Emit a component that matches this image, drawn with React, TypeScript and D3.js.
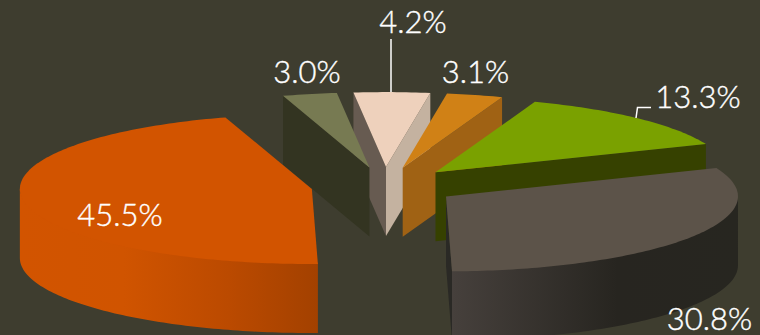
import React from "react";
import * as d3 from "d3";

// Slices clockwise, beginning with the green wedge.
const categories = ["Green", "Slate", "Rust", "Olive", "Blush", "Amber"];
const shares = [13.3, 30.8, 45.5, 3.0, 4.2, 3.1];
const topColors = ["#7aa100", "#5c5349", "#d25400", "#777a52", "#eed1bc", "#d08116"];
const startWallColors = ["none", "none", "none", "#333421", "#675b51", "none"];
const endWallColors = ["#364100", "#2a2925", "none", "none", "#c4b2a0", "#a06214"];
// Back-to-front so nearer wedges overlap those behind them.
const paintOrder = ["Blush", "Olive", "Amber", "Green", "Rust", "Slate"];

const W = 760;
const H = 335;
const CX = 384.5;
const CY = 186;
const RX = 292;
const RY = 75;
const DEPTH = 69;
const EXPLODE = 0.252;
const FIRST_ANGLE = (19.9 * Math.PI) / 180;

type Pt = [number, number];

const pieLayout = d3
  .pie<number>()
  .sort(null)
  .startAngle(FIRST_ANGLE)
  .endAngle(FIRST_ANGLE + 2 * Math.PI);

const arcs = pieLayout(shares);
const outline = d3.line<Pt>();

// Projects a polar position on the tilted disc onto the page.
const rim = (a: number, ox: number, oy: number, dz = 0): Pt => [
  ox + RX * Math.sin(a),
  oy - RY * Math.cos(a) + dz,
];

const sweep = (a0: number, a1: number) => {
  const n = Math.max(2, Math.ceil(((a1 - a0) * 180) / Math.PI));
  return d3.range(n + 1).map((i) => a0 + ((a1 - a0) * i) / n);
};

const closed = (pts: Pt[]) => (outline(pts) ?? "") + "Z";

const labelFor = (name: string) => shares[categories.indexOf(name)].toFixed(1) + "%";
const textLayout: { name: string; x: number; y: number }[] = [
  { name: "Blush", x: 413, y: 33 },
  { name: "Olive", x: 307, y: 83 },
  { name: "Amber", x: 475.5, y: 83 },
  { name: "Green", x: 698, y: 108 },
  { name: "Slate", x: 709.5, y: 330 },
  { name: "Rust", x: 120, y: 226 },
];
const leaders: Pt[][] = [
  [[391, 39], [391, 92]],
  [[651, 107.5], [637.5, 107.5], [636, 118]],
];

export default function App() {
  const wedges = paintOrder.map((name) => {
    const i = categories.indexOf(name);
    const { startAngle: a0, endAngle: a1 } = arcs[i];
    const mid = (a0 + a1) / 2;
    const ox = CX + EXPLODE * RX * Math.sin(mid);
    const oy = CY - EXPLODE * RY * Math.cos(mid);
    const apex: Pt = [ox, oy];
    const apexLow: Pt = [ox, oy + DEPTH];

    const cut = (a: number) =>
      closed([apex, rim(a, ox, oy), rim(a, ox, oy, DEPTH), apexLow]);

    // The curved outer wall only faces the viewer on the lower half of the disc;
    // its upper edge is tucked under the top face to avoid a seam.
    const lo = Math.max(a0, Math.PI / 2);
    const hi = Math.min(a1, (3 * Math.PI) / 2);
    let wall: string | null = null;
    if (hi > lo) {
      const angles = sweep(lo, hi);
      wall = closed([
        ...angles.map((a) => rim(a, ox, oy, -1.5)),
        ...angles.slice().reverse().map((a) => rim(a, ox, oy, DEPTH)),
      ]);
    }

    const top = closed([apex, ...sweep(a0, a1).map((a) => rim(a, ox, oy))]);
    return { name, i, a0, a1, top, wall, cut };
  });

  return (
    <svg
      width={W}
      height={H}
      viewBox={`0 0 ${W} ${H}`}
      style={{ position: "fixed", left: 0, top: 0, display: "block" }}
    >
      <defs>
        <linearGradient id="wall-Rust" gradientUnits="userSpaceOnUse" x1={19} x2={318} y1={0} y2={0}>
          <stop offset="0" stopColor="#d25400" />
          <stop offset="0.35" stopColor="#d05400" />
          <stop offset="0.7" stopColor="#bb4a00" />
          <stop offset="1" stopColor="#a34100" />
        </linearGradient>
        <linearGradient id="wall-Slate" gradientUnits="userSpaceOnUse" x1={452} x2={737} y1={0} y2={0}>
          <stop offset="0" stopColor="#46403c" />
          <stop offset="0.58" stopColor="#272520" />
          <stop offset="1" stopColor="#272620" />
        </linearGradient>
      </defs>
      <rect width={W} height={H} fill="#3e3d2f" />
      {wedges.map((w) => (
        <g key={w.name}>
          {startWallColors[w.i] !== "none" && <path d={w.cut(w.a0)} fill={startWallColors[w.i]} />}
          {endWallColors[w.i] !== "none" && <path d={w.cut(w.a1)} fill={endWallColors[w.i]} />}
          {w.wall && <path d={w.wall} fill={`url(#wall-${w.name})`} />}
          <path d={w.top} fill={topColors[w.i]} />
        </g>
      ))}
      {leaders.map((pts, i) => (
        <path key={i} d={outline(pts) ?? ""} fill="none" stroke="#ffffff" strokeWidth={1.5} />
      ))}
      {textLayout.map((t) => (
        <text
          key={t.name}
          x={t.x}
          y={t.y}
          textAnchor="middle"
          fontFamily="Lato, sans-serif"
          fontWeight={300}
          fontSize={31}
          fill="#ffffff"
          stroke="#ffffff"
          strokeWidth={0.4}
        >
          {labelFor(t.name)}
        </text>
      ))}
    </svg>
  );
}
